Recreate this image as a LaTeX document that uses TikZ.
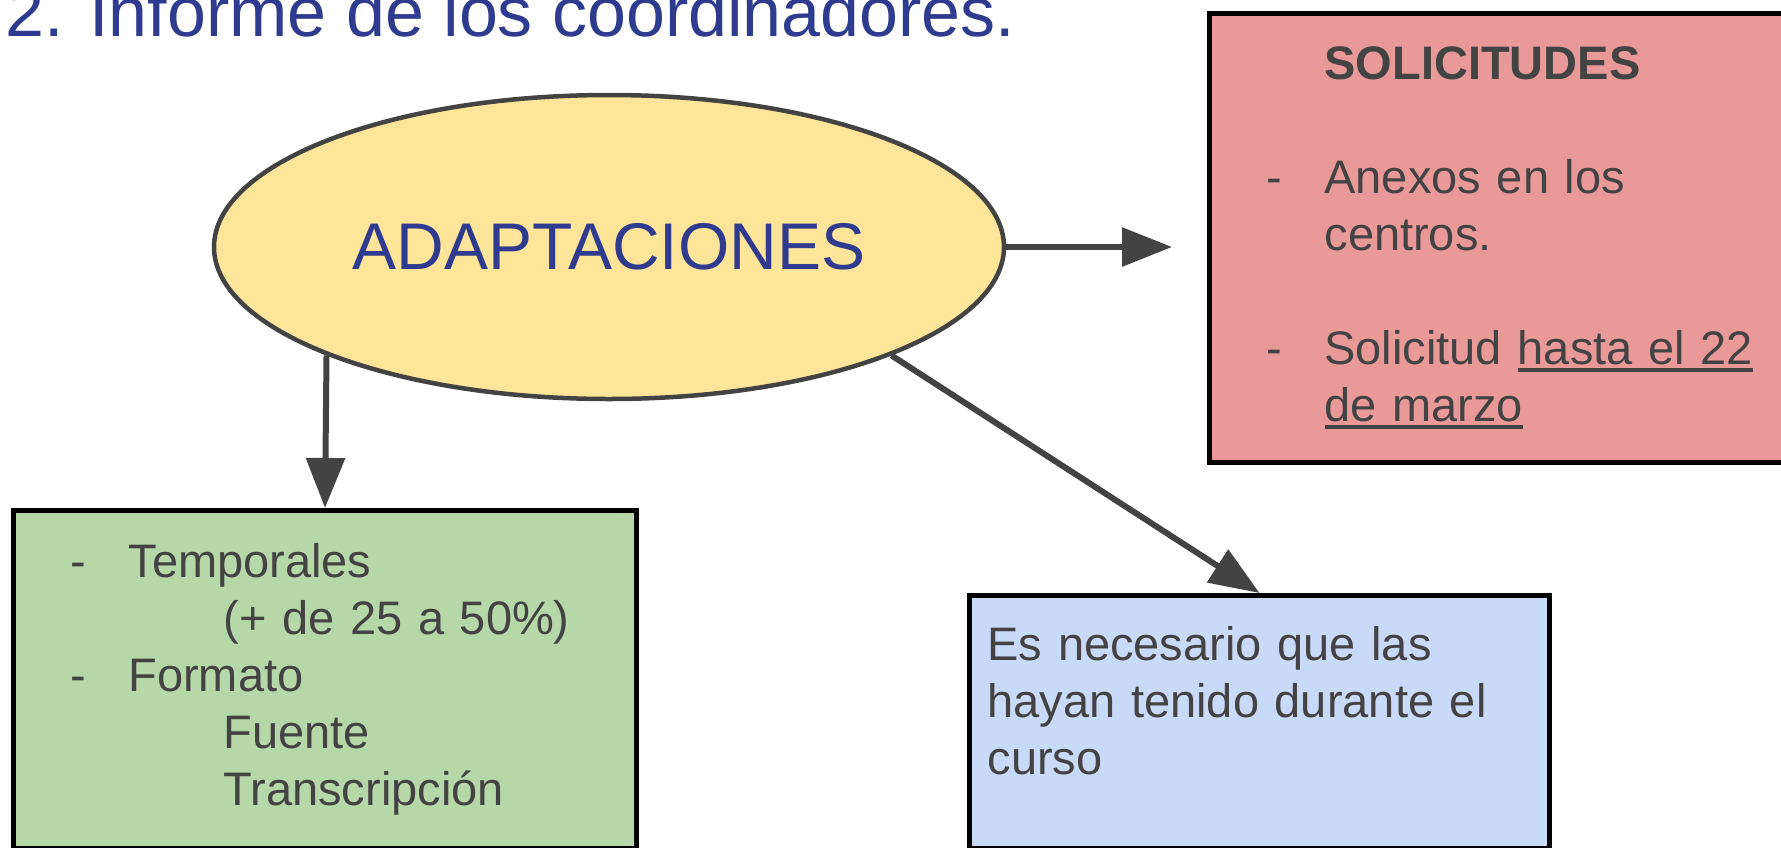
\documentclass[tikz,border=0pt]{standalone}
\usepackage{fontspec}
\setmainfont{Liberation Sans}
\usetikzlibrary{positioning, shapes.geometric, arrows.meta}
\definecolor{titleBlue}{HTML}{2E3B8F}
\definecolor{inkGray}{HTML}{434343}
\definecolor{ellipseFill}{HTML}{FFE599}
\definecolor{redFill}{HTML}{EA9999}
\definecolor{greenFill}{HTML}{B6D7A8}
\definecolor{blueFill}{HTML}{C9DAF8}
\newcommand{\dashItem}[1]{\makebox[58pt][l]{-}#1}
\newcommand{\underLine}[1]{\setbox0\hbox{#1}\rlap{\rule[-8pt]{\wd0}{4pt}}\box0}
\begin{document}
\begin{tikzpicture}[
  x=1pt, y=-1pt,
  card/.style={
    rectangle,
    draw=black,
    line width=5pt,
    anchor=north west,
    align=left,
    text=inkGray,
    inner ysep=0pt,
    font=\fontsize{47}{57}\selectfont
  },
  arrow/.style={
    -{Triangle[length=50pt, width=38pt]},
    draw=inkGray,
    line width=6pt
  }
]
  \useasboundingbox (0,0) rectangle (1781,847);
  % Title
  \node[anchor=base west, inner sep=0pt, text=titleBlue,
    font=\fontsize{70}{84}\selectfont] (title) at (5,36) {2. Informe de los coordinadores.};
  % Define nodes
  \node[ellipse, draw=inkGray, fill=ellipseFill, line width=4.5pt,
    minimum width=790pt, minimum height=304pt, text=titleBlue,
    font=\fontsize{66}{80}\selectfont] (adapt) at (609,247) {ADAPTACIONES};
  \node[card, fill=redFill, minimum width=620pt, minimum height=449pt,
    inner xsep=57pt, text width=506pt] (solic) at (1207,11) {\hspace*{58pt}\textbf{SOLICITUDES}\\[57pt]
    \dashItem{Anexos en los}\\
    \hspace*{58pt}centros.\\[57pt]
    \dashItem{Solicitud \underLine{hasta el 22}}\\
    \hspace*{58pt}\underLine{de marzo}};
  \node[card, fill=greenFill, minimum width=623pt, minimum height=338pt,
    inner xsep=57pt, text width=509pt] (types) at (11,508) {\dashItem{Temporales}\\
    \hspace*{153pt}(+ de 25 a 50\%)\\
    \dashItem{Formato}\\
    \hspace*{153pt}Fuente\\
    \hspace*{153pt}Transcripción};
  \node[card, fill=blueFill, minimum width=580pt, minimum height=253pt,
    inner xsep=18pt, text width=544pt] (cond) at (967,593) {Es necesario que las\\
    hayan tenido durante el\\
    curso\par\vspace*{43pt}};

  % Connect nodes with arrows
  \draw[arrow] (adapt.east) -- ([xshift=-35pt]adapt.east -| solic.west);
  \draw[arrow] (adapt.201) -- (types.north);
  \draw[arrow] (adapt.339) -- (cond.north);
\end{tikzpicture}
\end{document}
